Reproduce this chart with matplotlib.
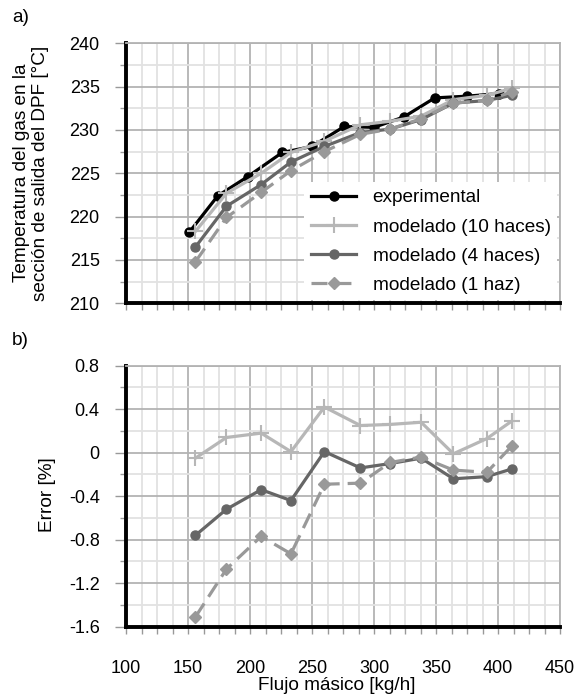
import matplotlib
matplotlib.use("Agg")
from matplotlib import pyplot as plt
from matplotlib.ticker import MultipleLocator

plt.rcParams['font.family'] = ['Liberation Sans', 'DejaVu Sans']
plt.rcParams['font.size'] = 13

# mass flow [kg/h]
flow_exp = [151, 174, 198, 226, 250, 276, 300, 324, 349, 375, 401]
flow_mod = [156, 181, 209, 233, 260, 289, 313, 338, 364, 391, 411]

# outlet gas temperature [C]
temp_exp = [218.2, 222.4, 224.6, 227.4, 228.1, 230.4, 230.3, 231.5, 233.7, 233.9, 234.2]
temp_10 = [218.3, 222.7, 225.0, 227.4, 228.7, 230.6, 231.0, 231.6, 233.5, 234.0, 234.8]
temp_4 = [216.5, 221.2, 223.7, 226.3, 228.1, 229.7, 230.1, 231.2, 233.1, 233.4, 234.0]
temp_1 = [214.8, 219.9, 222.8, 225.3, 227.5, 229.5, 230.1, 231.3, 233.1, 233.4, 234.4]

# error [%]
err_10 = [-0.05, 0.14, 0.18, 0.01, 0.42, 0.25, 0.26, 0.28, -0.01, 0.13, 0.29]
err_4 = [-0.76, -0.52, -0.34, -0.44, 0.01, -0.14, -0.10, -0.05, -0.24, -0.22, -0.15]
err_1 = [-1.51, -1.07, -0.77, -0.93, -0.29, -0.28, -0.09, -0.04, -0.16, -0.18, 0.06]

labels = ["experimental", "modelado (10 haces)", "modelado (4 haces)", "modelado (1 haz)"]

c_exp = "black"
c_10 = "#b7b7b7"
c_4 = "#666666"
c_1 = "#999999"

fig = plt.figure(figsize=(5.77, 6.95), dpi=100)
ax1 = fig.add_axes([0.2184, 0.5636, 0.7522, 0.3741])
ax2 = fig.add_axes([0.2184, 0.0983, 0.7522, 0.3755])

def style_axes(ax, ymin, ymax, ymaj, ymin_step):
	ax.set_xlim(100, 450)
	ax.set_ylim(ymin, ymax)
	ax.xaxis.set_major_locator(MultipleLocator(50))
	ax.xaxis.set_minor_locator(MultipleLocator(12.5))
	ax.yaxis.set_major_locator(MultipleLocator(ymaj))
	ax.yaxis.set_minor_locator(MultipleLocator(ymin_step))
	ax.grid(which='major', color='#b3b3b3', linewidth=1.3)
	ax.grid(which='minor', color='#e2e2e2', linewidth=1.3)
	ax.set_axisbelow(True)
	for s in ['top', 'right']:
		ax.spines[s].set_color('#b3b3b3')
		ax.spines[s].set_linewidth(1.3)
	for s in ['left', 'bottom']:
		ax.spines[s].set_color('black')
		ax.spines[s].set_linewidth(2.8)
	ax.tick_params(axis='y', which='major', length=8, width=1, color='#999999', pad=11)
	ax.tick_params(axis='y', which='minor', length=4, width=1, color='#999999')
	ax.tick_params(axis='x', which='both', length=5, width=1, color='#999999', pad=19)

style_axes(ax1, 210, 240, 5, 2.5)
style_axes(ax2, -1.6, 0.8, 0.4, 0.2)

ax1.plot(flow_exp, temp_exp, color=c_exp, lw=2.3, marker='o', ms=6.5, label=labels[0])
ax1.plot(flow_mod, temp_10, color=c_10, lw=2.3, marker='+', ms=12, mew=1.5, label=labels[1])
ax1.plot(flow_mod, temp_4, color=c_4, lw=2.3, marker='o', ms=6.5, label=labels[2])
ax1.plot(flow_mod, temp_1, color=c_1, lw=2.3, ls=(0, (5, 2.5)), marker='D', ms=6.5, label=labels[3])
ax1.tick_params(axis='x', labelbottom=False)
ax1.set_yticks([210, 215, 220, 225, 230, 235, 240])

leg = ax1.legend(loc='lower right', frameon=True, fancybox=False, edgecolor='white',
	framealpha=1, fontsize=13.7, handlelength=2.4, handletextpad=0.85, labelspacing=0.62,
	borderaxespad=0.15, borderpad=0.35)
leg.get_frame().set_linewidth(0)

ax2.plot(flow_mod, err_10, color=c_10, lw=2.3, marker='+', ms=12, mew=1.5)
ax2.plot(flow_mod, err_4, color=c_4, lw=2.3, marker='o', ms=6.5)
ax2.plot(flow_mod, err_1, color=c_1, lw=2.3, ls=(0, (5, 2.5)), marker='D', ms=6.5)
ax2.set_yticks([-1.6, -1.2, -0.8, -0.4, 0, 0.4, 0.8])
ax2.set_yticklabels(['-1.6', '-1.2', '-0.8', '-0.4', '0', '0.4', '0.8'])
ax2.set_xticks([100, 150, 200, 250, 300, 350, 400, 450])

fig.text(31 / 577, 1 - 173 / 695, "Temperatura del gas en la\nsección de salida del DPF [°C]",
	rotation=90, ha='center', va='center', multialignment='center', linespacing=1.1,
	fontsize=13.7)
fig.text(47 / 577, 1 - 495 / 695, "Error [%]", rotation=90, ha='center', va='center',
	fontsize=13.7)
fig.text(337 / 577, 1 - 686 / 695, "Flujo másico [kg/h]", ha='center', va='center',
	fontsize=13.7)
fig.text(12 / 577, 1 - 18 / 695, "a)", ha='left', va='center', fontsize=13.7)
fig.text(12 / 577, 1 - 340 / 695, "b)", ha='left', va='center', fontsize=13.7)

fig.savefig("out.png", dpi=100)
